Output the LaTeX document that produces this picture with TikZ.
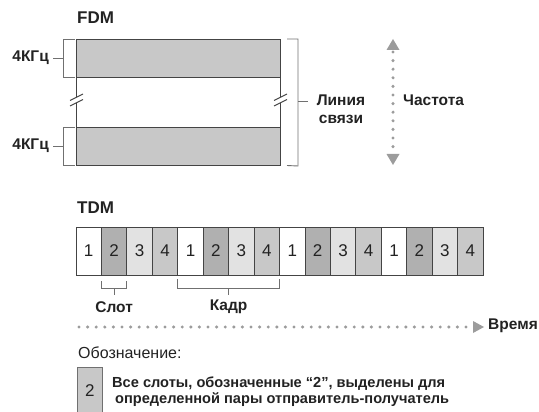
\documentclass[tikz,border=0pt]{standalone}
\usepackage{fontspec}
\setmainfont{Liberation Sans}
\usetikzlibrary{calc}
\definecolor{txt}{HTML}{222222}
\definecolor{edge}{HTML}{444444}
\definecolor{brkc}{HTML}{707070}
\definecolor{band}{HTML}{C8C8C8}
\definecolor{cA}{HTML}{FFFFFF}
\definecolor{cB}{HTML}{B0B0B0}
\definecolor{cC}{HTML}{E2E2E2}
\definecolor{cD}{HTML}{C8C8C8}
\definecolor{dotc}{HTML}{9C9C9C}
\begin{document}
\begin{tikzpicture}[x=1pt,y=-1pt,
  lab/.style={font=\bfseries\fontsize{15.5}{18}\selectfont, text=txt, inner sep=0pt},
  ttl/.style={font=\bfseries\fontsize{17}{20}\selectfont, text=txt, inner sep=0pt},
  bandbox/.style={draw=edge, line width=0.9pt, fill=band, minimum width=204pt, minimum height=38pt, inner sep=0pt, outer sep=0pt, anchor=north west},
  slotbox/.style={draw=edge, line width=0.9pt, minimum width=25.44pt, minimum height=48pt, inner sep=0pt, outer sep=0pt, anchor=north west, font=\fontsize{17}{20}\selectfont, text=txt},
  brk/.style={draw=brkc, line width=0.9pt},
  dotline/.style={draw=dotc, line width=3.4pt, line cap=round, dash pattern=on 0pt off 8.6pt},
  tri/.style={fill=dotc, draw=none}
]
\useasboundingbox (0,0) rectangle (539,412);

% ---------- FDM ----------
\node[ttl, anchor=west] (fdm) at (77,18) {FDM};
\node[bandbox] (b1) at (76,39) {};
\node[bandbox] (b2) at (76,127.5) {};

% side lines between bands with break marks
\draw[draw=edge, line width=0.9pt] (b1.south west) -- (76,97);
\draw[draw=edge, line width=0.9pt] (76,103) -- (b2.north west);
\draw[draw=edge, line width=0.9pt] (b1.south east) -- (280,97);
\draw[draw=edge, line width=0.9pt] (280,103) -- (b2.north east);
\draw[draw=edge, line width=0.9pt] (70,100.5) -- (83,94);
\draw[draw=edge, line width=0.9pt] (70,106) -- (83,99.5);
\draw[draw=edge, line width=0.9pt] (274,100.5) -- (287,94);
\draw[draw=edge, line width=0.9pt] (274,106) -- (287,99.5);

% left brackets
\draw[brk] ([xshift=-1pt]b1.north west) -- (63,39) -- (63,77) -- ([xshift=-1pt]b1.south west);
\coordinate (t1) at (63,58);
\draw[brk] (t1) -- (53,58);
\node[lab, anchor=east] (k1) at (49,58) {4КГц};
\draw[brk] ([xshift=-1pt]b2.north west) -- (63,127.5) -- (63,165.5) -- ([xshift=-1pt]b2.south west);
\coordinate (t2) at (63,146);
\draw[brk] (t2) -- (53,146);
\node[lab, anchor=east] (k2) at (49,146) {4КГц};

% right bracket
\draw[brk] ([xshift=7pt]b1.north east) -- (298,39) -- (298,166) -- ([xshift=7pt]b2.south east);
\coordinate (t3) at (298,101);
\draw[brk] (t3) -- (308,101);
\node[lab, align=center] (line) at (341,109) {Линия\\связи};

% frequency arrow
\coordinate (fa) at (393,52);
\coordinate (fb) at (393,153);
\draw[dotline] (fa) -- (fb);
\fill[tri] (393,39) -- (399.5,50) -- (386.5,50) -- cycle;
\fill[tri] (393,165) -- (399.5,154) -- (386.5,154) -- cycle;
\node[lab, anchor=west] (freq) at (403,100) {Частота};

% ---------- TDM ----------
\node[ttl, anchor=west] (tdm) at (77,208) {TDM};
\foreach \i/\n/\c in {1/1/cA,2/2/cB,3/3/cC,4/4/cD,5/1/cA,6/2/cB,7/3/cC,8/4/cD,9/1/cA,10/2/cB,11/3/cC,12/4/cD,13/1/cA,14/2/cB,15/3/cC,16/4/cD}{
  \node[slotbox, fill=\c] (s\i) at ({76+(\i-1)*25.44},227) {\n};
}

% slot bracket
\draw[brk] ([yshift=-6pt]s2.south west) -- ([yshift=-13pt]s2.south west) -- ([yshift=-13pt]s2.south east) -- ([yshift=-6pt]s2.south east);
\draw[brk] ([yshift=-13pt]s2.south) -- ([yshift=-20pt]s2.south);
\node[lab] (slot) at ([yshift=-32pt]s2.south) {Слот};

% frame bracket
\draw[brk] ([yshift=-4pt]s5.south west) -- ([yshift=-13pt]s5.south west) -- ([yshift=-13pt]s8.south east) -- ([yshift=-4pt]s8.south east);
\coordinate (fc) at ($(s6.south east)+(0,-13pt)$);
\draw[brk] (fc) -- ++(0,7);
\node[lab] (frame) at ($(s6.south east)+(0,-32pt)$) {Кадр};

% time arrow
\coordinate (ta) at (79,327);
\coordinate (tb) at (468,327);
\draw[dotline] (ta) -- (tb);
\fill[tri] (473,321) -- (484,327) -- (473,333) -- cycle;
\node[lab, anchor=west] (time) at (488,326) {Время};

% ---------- legend ----------
\node[font=\fontsize{16}{19}\selectfont, text=txt, inner sep=0pt, anchor=west] (leg) at (78,353) {Обозначение:};
\node[draw=brkc, line width=0.9pt, fill=cD, minimum width=25pt, minimum height=46pt, inner sep=0pt, anchor=north west, font=\fontsize{17}{20}\selectfont, text=txt] (lb) at (77,367) {2};
\node[font=\bfseries\fontsize{14.6}{17}\selectfont, text=txt, inner sep=0pt, anchor=west] (l1) at (112,384) {Все слоты, обозначенные “2”, выделены для};
\node[font=\bfseries\fontsize{14.6}{17}\selectfont, text=txt, inner sep=0pt, anchor=west] (l2) at (115,400) {определенной пары отправитель-получатель};
\end{tikzpicture}
\end{document}
